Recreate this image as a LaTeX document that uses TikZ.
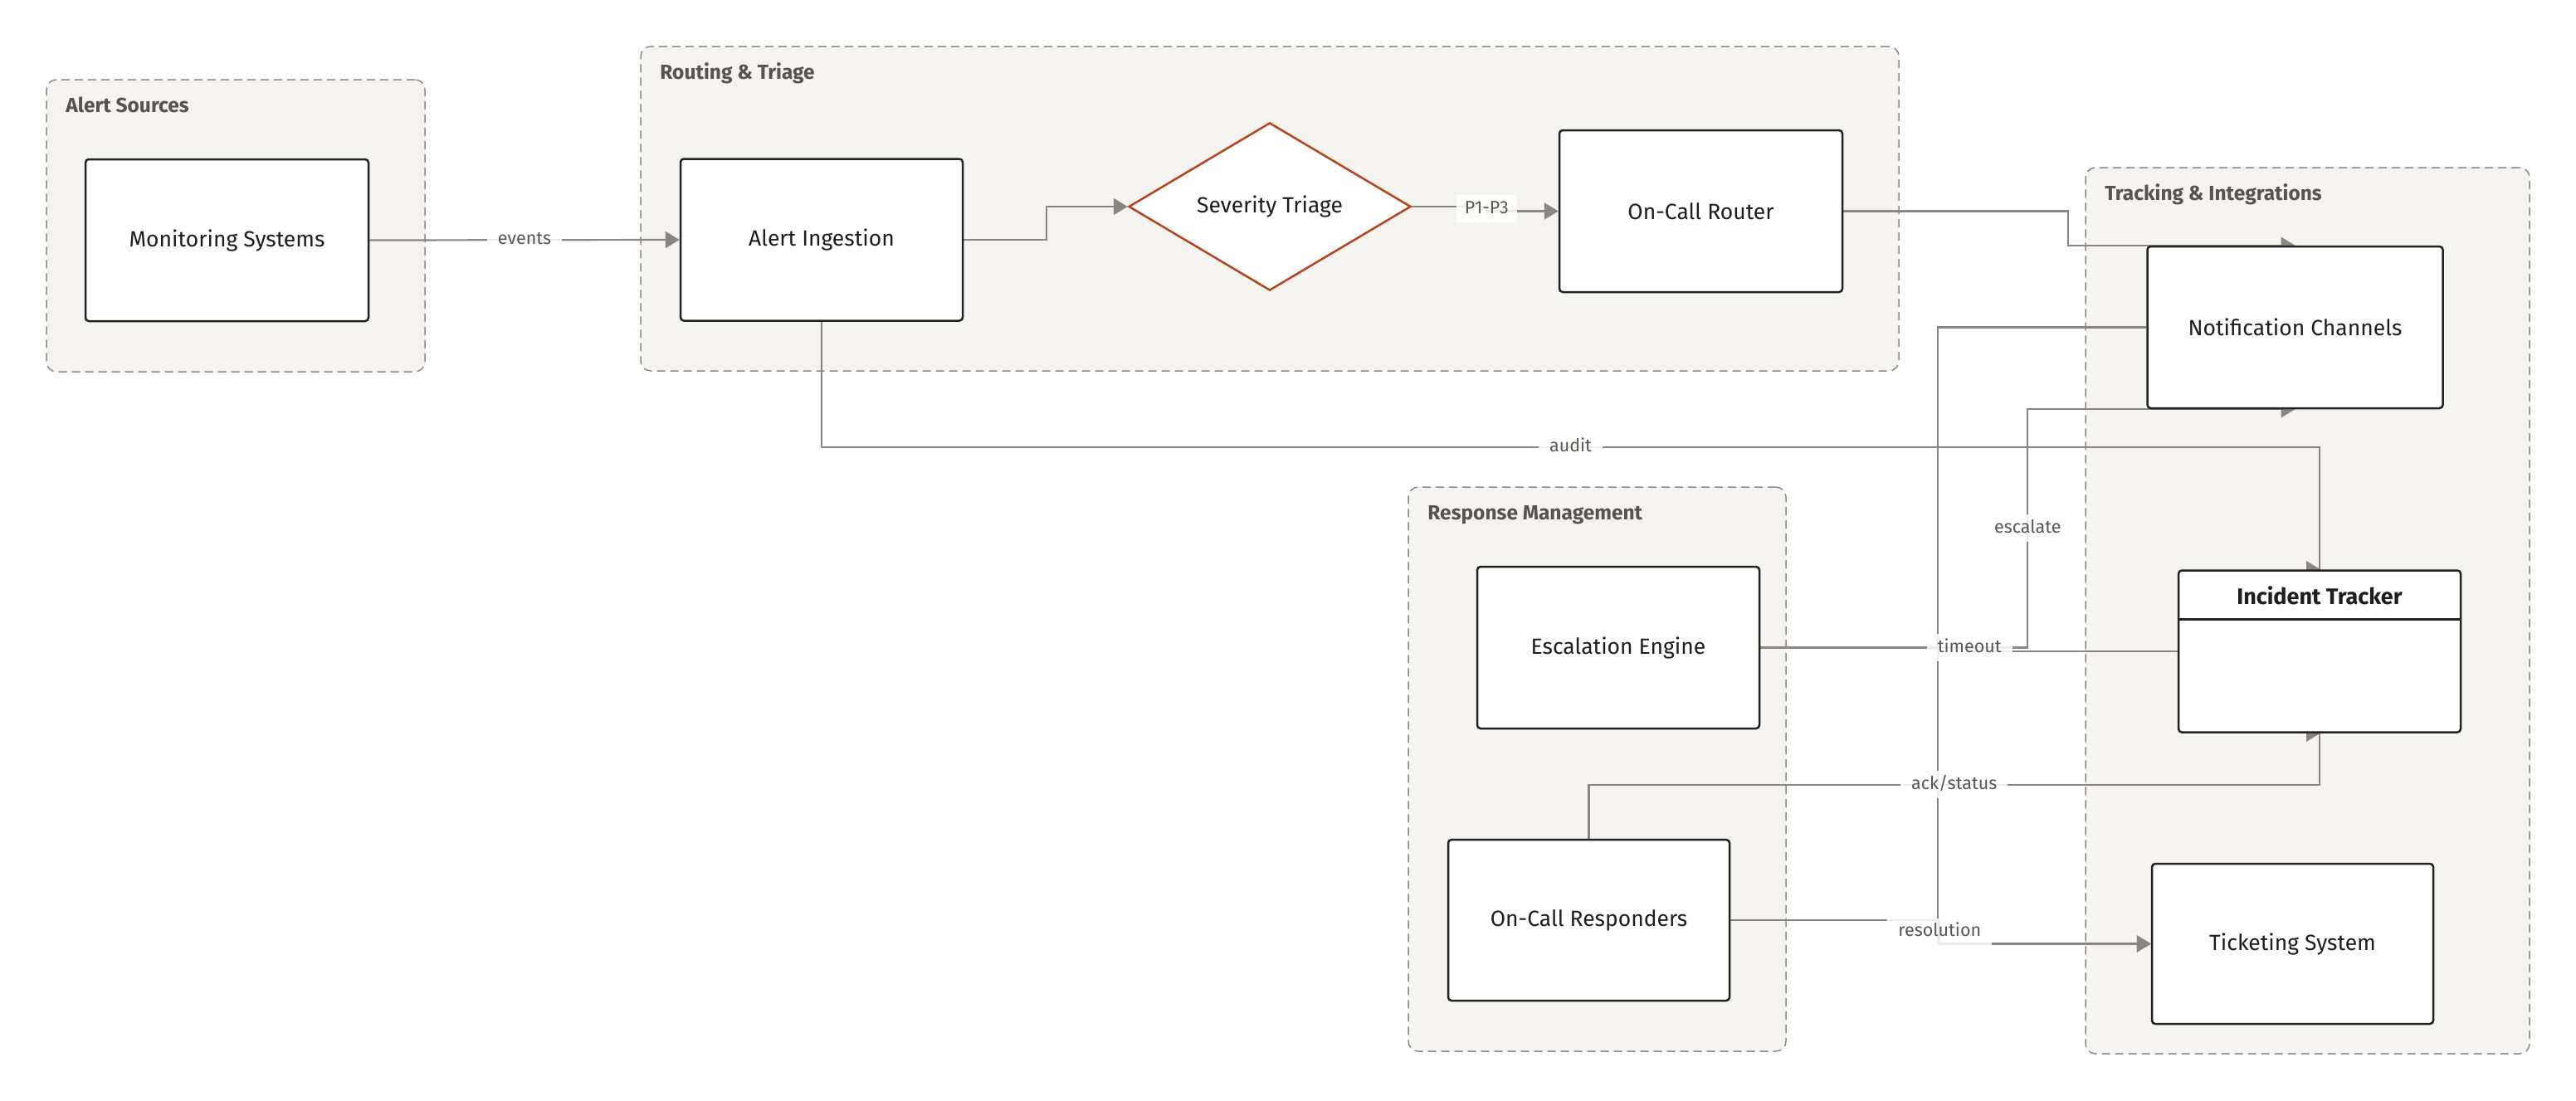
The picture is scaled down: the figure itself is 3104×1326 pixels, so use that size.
\documentclass[tikz,border=0pt]{standalone}
\usepackage{fontspec}
\setmainfont{Fira Sans}
\usetikzlibrary{shapes.geometric,arrows.meta,calc}
\definecolor{grpfill}{HTML}{F5F4F0}
\definecolor{grpline}{HTML}{8E8B85}
\definecolor{edgecol}{HTML}{8A867F}
\definecolor{nodeline}{HTML}{222222}
\definecolor{txt}{HTML}{1E1E1E}
\definecolor{ttl}{HTML}{57544F}
\definecolor{lbltxt}{HTML}{5A5752}
\definecolor{diam}{HTML}{B8431F}
\pgfdeclarelayer{bg}
\pgfdeclarelayer{edges}
\pgfsetlayers{bg,edges,main}
\begin{document}
\begin{tikzpicture}[x=1pt,y=-1pt,
  group/.style={draw=grpline, fill=grpfill, line width=1.5pt, dash pattern=on 10pt off 6pt, rounded corners=12pt, inner sep=0pt},
  grptitle/.style={anchor=base west, inner sep=0pt, text=ttl, font=\fontsize{24.5}{29}\selectfont\bfseries},
  box/.style={draw=nodeline, fill=white, line width=2.5pt, rounded corners=4pt, minimum width=340pt, minimum height=195pt, inner sep=0pt, text=txt, font=\fontsize{26.5}{31}\selectfont},
  decision/.style={diamond, draw=diam, fill=white, line width=2.5pt, minimum width=340pt, minimum height=195pt, inner sep=0pt, text=txt, font=\fontsize{26.5}{31}\selectfont},
  edge/.style={draw=edgecol, line width=2.2pt},
  >={Triangle[length=17pt,width=20pt]},
  lbl/.style={fill=white, fill opacity=0.85, text opacity=1, text=lbltxt, font=\fontsize{21.5}{26}\selectfont, inner xsep=13pt, inner ysep=7pt, text height=15pt, text depth=4pt}
]
\useasboundingbox (0,0) rectangle (3104,1326);
\begin{pgfonlayer}{bg}
\fill[white] (0,0) rectangle (3104,1326);
\node[group, minimum width=456pt, minimum height=352pt] (g1) at (284,272) {};
\node[group, minimum width=1516pt, minimum height=391pt] (g2) at (1530,251.5) {};
\node[group, minimum width=455pt, minimum height=680pt] (g3) at (1924.5,927) {};
\node[group, minimum width=535pt, minimum height=1068pt] (g4) at (2780.5,736) {};
\node[grptitle] (t1) at ($(g1.north west)+(24,40)$) {Alert Sources};
\node[grptitle] (t2) at ($(g2.north west)+(24,40)$) {Routing \& Triage};
\node[grptitle] (t3) at ($(g3.north west)+(24,40)$) {Response Management};
\node[grptitle] (t4) at ($(g4.north west)+(24,40)$) {Tracking \& Integrations};
\end{pgfonlayer}

\node[box, minimum width=341pt] (ms) at (273.5,289.5) {Monitoring Systems};
\node[box] (ai) at (990,289) {Alert Ingestion};
\node[decision] (st) at (1530,249) {Severity Triage};
\node[box, minimum width=341pt] (ocr) at (2049.5,254.5) {On-Call Router};
\node[box, minimum width=356pt] (nc) at (2765.5,394.5) {Notification Channels};
\node[box] (it) at (2795,785) {};
\node[inner sep=0pt, text=txt, font=\fontsize{27}{32}\selectfont\bfseries] (itt) at ($(it.north)+(0,32)$) {Incident Tracker};
\draw[nodeline, line width=2.5pt] ($(it.north west)+(0,60)$) -- ($(it.north east)+(0,60)$);
\node[box, minimum width=339pt, minimum height=193pt] (ts) at (2762.5,1137.5) {Ticketing System};
\node[box] (ee) at (1950,780.5) {Escalation Engine};
\node[box, minimum width=339pt, minimum height=194pt] (ocresp) at (1914.5,1109) {On-Call Responders};

\begin{pgfonlayer}{edges}
\draw[edge,->] (nc.west) -- ++(-251,0) |- (ts.west);
\draw[edge,->] (ms.east) -- node[lbl]{events} (ai.west);
\draw[edge,->] (ai.east) -- ++(100,0) |- (st.west);
\draw[edge,->] (st.east) -- ++(90,0) |- node[lbl, pos=0.25, inner xsep=10pt]{P1-P3} (ocr.west);
\draw[edge,->] (ocr.east) -- ++(271,0) |- (nc.north);
\draw[edge,->] (ai.south) -- ++(0,151) -| node[lbl, pos=0.25]{audit} (it.north) -- ++(1,0);
\draw[edge,->] (ee.east) -- ++(322,0) |- node[lbl, pos=0.25]{escalate} (nc.south);
\draw[edge] (ee.east) -- ++(252,0) |- node[lbl, pos=0]{timeout} (it.west);
\draw[edge,->] (ocresp.north) -- ++(0,-65) -| node[lbl, pos=0.25]{ack/status} (it.south) -- ++(1,0);
\draw[edge,->] (ocresp.east) -- ++(252,0) |- node[lbl, pos=0.25]{resolution} (ts.west);
\end{pgfonlayer}
\end{tikzpicture}
\end{document}
